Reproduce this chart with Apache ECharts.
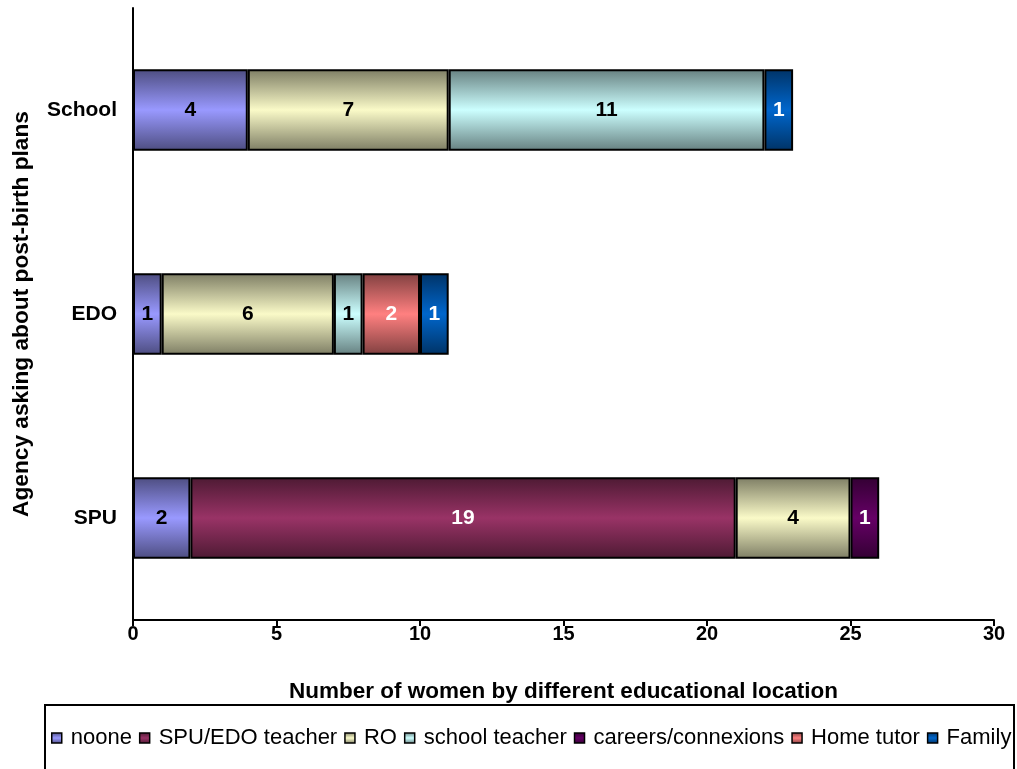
<!DOCTYPE html>
<html>
<head>
<meta charset="utf-8">
<script src="https://cdn.jsdelivr.net/npm/echarts@6/dist/echarts.min.js"></script>
<style>
html, body { margin: 0; padding: 0; background: #fff; }
#myChart { width: 1017px; height: 769px; }
</style>
</head>
<body>
<div id="myChart"></div>
<script>
// categories, bottom to top as ECharts draws them
const agencies = ['SPU', 'EDO', 'School']
const seriesNames = ['noone', 'SPU/EDO teacher', 'RO', 'school teacher', 'careers/connexions', 'Home tutor', 'Family']
const noone = [2, 1, 4]
const spuEdoTeacher = [19, null, null]
const ro = [4, 6, 7]
const schoolTeacher = [null, 1, 11]
const careers = [1, null, null]
const homeTutor = [null, 2, null]
const family = [null, 1, 1]
const xTicks = [0, 5, 10, 15, 20, 25, 30]

const values = [noone, spuEdoTeacher, ro, schoolTeacher, careers, homeTutor, family]
const colors = ['#9999FF', '#993366', '#FAFAC8', '#CCFFFF', '#660066', '#FF8080', '#0066CC']
const labelColors = ['#000', '#fff', '#000', '#000', '#fff', '#fff', '#fff']

function shade(hex, f) {
  let n = parseInt(hex.slice(1), 16)
  let r = Math.round(((n >> 16) & 255) * f)
  let g = Math.round(((n >> 8) & 255) * f)
  let b = Math.round((n & 255) * f)
  return 'rgb(' + r + ',' + g + ',' + b + ')'
}

// darker at the top and bottom edge, plain colour in the middle
function grad(hex) {
  return new echarts.graphic.LinearGradient(0, 0, 0, 1, [
    { offset: 0, color: shade(hex, 0.5) },
    { offset: 0.5, color: hex },
    { offset: 1, color: shade(hex, 0.5) }
  ])
}

let myChart = echarts.init(document.getElementById('myChart'))

let series = seriesNames.map(function (name, i) {
  return {
    name: name,
    type: 'bar',
    stack: 'total',
    barWidth: '40%',
    data: values[i],
    itemStyle: { color: grad(colors[i]), borderColor: '#000', borderWidth: 2 },
    label: {
      show: true,
      position: 'inside',
      color: labelColors[i],
      fontWeight: 'bold',
      fontSize: 21
    },
    emphasis: { disabled: true }
  }
})

myChart.setOption({
  animation: false,
  textStyle: { fontFamily: 'Liberation Sans, Arial' },
  grid: { left: 133, right: 23, top: 8, bottom: 149, containLabel: false },
  xAxis: {
    type: 'value',
    min: xTicks[0],
    max: xTicks[xTicks.length - 1],
    interval: 5,
    name: 'Number of women by different educational location',
    nameLocation: 'middle',
    nameGap: 60,
    nameTextStyle: { fontSize: 22.5, fontWeight: 'bold', color: '#000' },
    axisLine: { show: true, lineStyle: { color: '#000', width: 2 } },
    axisTick: { show: true, length: 6, lineStyle: { color: '#000', width: 2 } },
    axisLabel: { color: '#000', fontSize: 20, fontWeight: 'bold', margin: 4 },
    splitLine: { show: false }
  },
  yAxis: {
    type: 'category',
    data: agencies,
    name: 'Agency asking about post-birth plans',
    nameLocation: 'middle',
    nameGap: 100,
    nameTextStyle: { fontSize: 22.7, fontWeight: 'bold', color: '#000' },
    axisLine: { show: true, lineStyle: { color: '#000', width: 2 } },
    axisTick: { show: false },
    axisLabel: { color: '#000', fontSize: 21, fontWeight: 'bold', margin: 16 }
  },
  legend: {
    data: seriesNames,
    left: 51,
    top: 727,
    width: 1100,
    padding: 0,
    itemWidth: 10,
    itemHeight: 10,
    itemGap: 7,
    icon: 'rect',
    textStyle: { fontSize: 22, color: '#000', padding: [0, 0, 0, 4] },
    itemStyle: { borderColor: '#000', borderWidth: 1.5 }
  },
  graphic: [
    {
      type: 'rect',
      shape: { x: 45, y: 705, width: 969, height: 80 },
      style: { fill: 'none', stroke: '#000', lineWidth: 2 },
      silent: true
    }
  ],
  series: series
})
</script>
</body>
</html>
